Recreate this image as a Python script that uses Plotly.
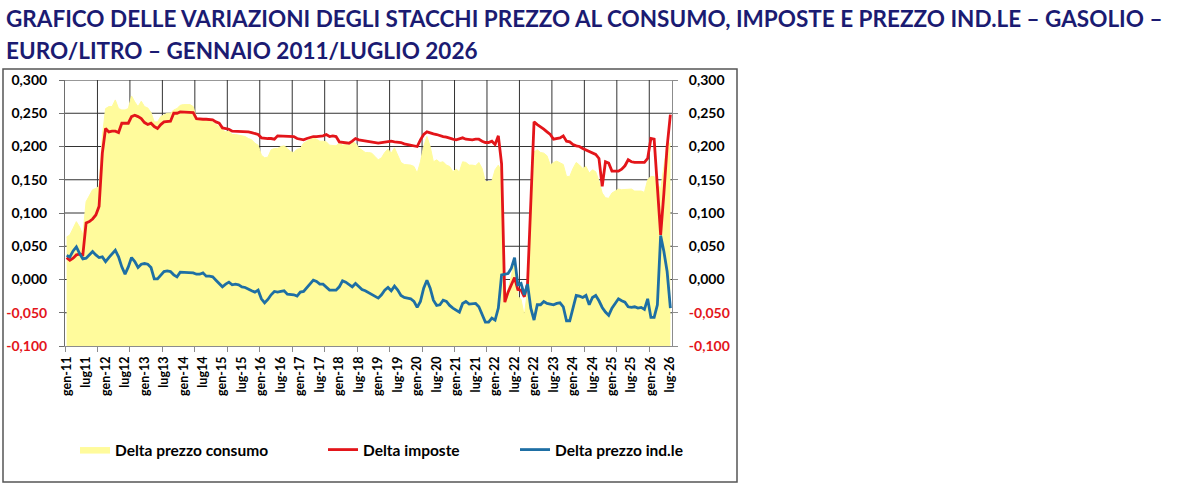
import plotly.graph_objects as go

# ---------------- DATA ----------------
n_months = 187  # gen-2011 ... lug-2026

delta_consumo = [
    0.064, 0.067, 0.077, 0.087, 0.079, 0.067, 0.117, 0.125, 0.135, 0.137,
    0.140, 0.215, 0.257, 0.260, 0.260, 0.270, 0.257, 0.255, 0.255, 0.257,
    0.276, 0.267, 0.260, 0.268, 0.260, 0.258, 0.251, 0.237, 0.237, 0.245,
    0.248, 0.250, 0.250, 0.255, 0.257, 0.262, 0.263, 0.263, 0.263, 0.260,
    0.242, 0.241, 0.242, 0.242, 0.240, 0.237, 0.233, 0.230, 0.225, 0.222,
    0.223, 0.218, 0.218, 0.217, 0.216, 0.215, 0.212, 0.210, 0.205, 0.202,
    0.187, 0.183, 0.184, 0.195, 0.197, 0.197, 0.200, 0.201, 0.197, 0.192,
    0.191, 0.196, 0.197, 0.205, 0.208, 0.210, 0.213, 0.211, 0.208, 0.208,
    0.207, 0.202, 0.201, 0.201, 0.205, 0.202, 0.203, 0.201, 0.207, 0.205,
    0.198, 0.195, 0.191, 0.191, 0.190, 0.185, 0.180, 0.183, 0.191, 0.196,
    0.190, 0.198, 0.188, 0.176, 0.173, 0.173, 0.172, 0.170, 0.160, 0.177,
    0.200, 0.215, 0.200, 0.177, 0.180, 0.176, 0.177, 0.172, 0.170, 0.162,
    0.166, 0.162, 0.177, 0.176, 0.172, 0.172, 0.171, 0.176, 0.167, 0.147,
    0.148, 0.148, 0.165, 0.172, 0.162, -0.030, -0.015, 0.005, 0.030, -0.025,
    -0.030, -0.055, -0.015, 0.080, 0.192, 0.195, 0.191, 0.190, 0.186, 0.172,
    0.176, 0.178, 0.176, 0.173, 0.155, 0.155, 0.167, 0.176, 0.172, 0.167,
    0.170, 0.160, 0.165, 0.162, 0.148, 0.130, 0.123, 0.122, 0.130, 0.133,
    0.136, 0.135, 0.135, 0.135, 0.136, 0.133, 0.133, 0.133, 0.131, 0.150,
    0.155, 0.155, 0.145, 0.135, 0.170, 0.205, 0.205,
]

delta_imposte = [
    0.033, 0.029, 0.032, 0.037, 0.038, 0.037, 0.085, 0.087, 0.091, 0.097,
    0.110, 0.190, 0.227, 0.222, 0.223, 0.223, 0.221, 0.235, 0.235, 0.235,
    0.245, 0.247, 0.245, 0.242, 0.236, 0.233, 0.235, 0.230, 0.227, 0.233,
    0.237, 0.238, 0.238, 0.250, 0.250, 0.252, 0.252, 0.252, 0.252, 0.251,
    0.242, 0.241, 0.241, 0.241, 0.241, 0.240, 0.237, 0.235, 0.228, 0.227,
    0.226, 0.223, 0.223, 0.222, 0.222, 0.222, 0.222, 0.221, 0.220, 0.218,
    0.213, 0.212, 0.212, 0.212, 0.211, 0.216, 0.216, 0.216, 0.216, 0.216,
    0.215, 0.212, 0.211, 0.210, 0.212, 0.214, 0.215, 0.215, 0.215, 0.216,
    0.218, 0.215, 0.216, 0.215, 0.207, 0.206, 0.206, 0.205, 0.208, 0.212,
    0.210, 0.209, 0.208, 0.208, 0.207, 0.206, 0.205, 0.206, 0.207, 0.207,
    0.208, 0.207, 0.207, 0.206, 0.204, 0.203, 0.203, 0.202, 0.200, 0.210,
    0.218, 0.222, 0.220, 0.219, 0.218, 0.216, 0.215, 0.214, 0.212, 0.211,
    0.210, 0.211, 0.213, 0.211, 0.210, 0.210, 0.211, 0.211, 0.208, 0.206,
    0.206, 0.208, 0.203, 0.216, 0.174, -0.034, -0.019, -0.008, 0.003, -0.015,
    -0.016, -0.026, -0.006, 0.115, 0.237, 0.233, 0.230, 0.226, 0.222, 0.218,
    0.211, 0.212, 0.213, 0.216, 0.208, 0.207, 0.203, 0.201, 0.200, 0.197,
    0.195, 0.193, 0.191, 0.188, 0.182, 0.140, 0.177, 0.175, 0.163, 0.163,
    0.163, 0.166, 0.171, 0.180, 0.177, 0.176, 0.176, 0.175, 0.176, 0.182,
    0.212, 0.211, 0.140, 0.067, 0.130, 0.200, 0.248,
]

delta_industriale = [
    0.036, 0.034, 0.043, 0.049, 0.039, 0.031, 0.032, 0.037, 0.042, 0.037,
    0.033, 0.034, 0.027, 0.033, 0.039, 0.044, 0.034, 0.019, 0.008, 0.019,
    0.033, 0.027, 0.018, 0.023, 0.024, 0.023, 0.018, 0.001, 0.001, 0.007,
    0.012, 0.013, 0.012, 0.007, 0.004, 0.011, 0.011, 0.011, 0.011, 0.010,
    0.008, 0.008, 0.010, 0.005, 0.005, 0.004, -0.001, -0.006, -0.011, -0.007,
    -0.004, -0.008, -0.007, -0.008, -0.011, -0.012, -0.015, -0.017, -0.019, -0.016,
    -0.029, -0.035, -0.030, -0.023, -0.018, -0.019, -0.018, -0.017, -0.022, -0.022,
    -0.023, -0.025, -0.019, -0.018, -0.012, -0.006, -0.001, -0.003, -0.007, -0.007,
    -0.012, -0.016, -0.016, -0.016, -0.011, -0.002, -0.004, -0.007, -0.011, -0.006,
    -0.011, -0.015, -0.017, -0.020, -0.022, -0.026, -0.028, -0.023, -0.016, -0.012,
    -0.017, -0.010, -0.016, -0.024, -0.027, -0.028, -0.029, -0.033, -0.042, -0.033,
    -0.013, -0.001, -0.013, -0.031, -0.039, -0.038, -0.031, -0.033, -0.039, -0.043,
    -0.046, -0.049, -0.036, -0.033, -0.037, -0.036, -0.036, -0.041, -0.052, -0.064,
    -0.064, -0.058, -0.061, -0.043, 0.007, 0.008, 0.009, 0.017, 0.033, -0.008,
    -0.006, -0.023, -0.007, -0.043, -0.061, -0.038, -0.038, -0.033, -0.036, -0.037,
    -0.038, -0.036, -0.035, -0.041, -0.062, -0.062, -0.043, -0.024, -0.025, -0.027,
    -0.024, -0.038, -0.027, -0.024, -0.032, -0.042, -0.049, -0.054, -0.043, -0.035,
    -0.029, -0.032, -0.034, -0.041, -0.042, -0.041, -0.043, -0.042, -0.045, -0.029,
    -0.057, -0.057, -0.038, 0.066, 0.042, 0.012, -0.043,
]

x_tick_labels = [
    "gen-11", "lug11", "gen-12", "lug12", "gen-13", "lug13", "gen-14", "lug14",
    "gen-15", "lug-15", "gen-16", "lug-16", "gen-17", "lug-17", "gen-18", "lug-18",
    "gen-19", "lug-19", "gen-20", "lug-20", "gen-21", "lug-21", "gen-22", "lug-22",
    "gen-22", "lug-23", "gen-24", "lug-24", "gen-25", "lug-25", "gen-26", "lug-26",
]
y_tick_values = [-0.100, -0.050, 0.000, 0.050, 0.100, 0.150, 0.200, 0.250, 0.300]
y_tick_labels = ["-0,100", "-0,050", "0,000", "0,050", "0,100", "0,150", "0,200", "0,250", "0,300"]

series_names = ["Delta prezzo consumo", "Delta imposte", "Delta prezzo ind.le"]
title_lines = [
    "GRAFICO DELLE VARIAZIONI DEGLI STACCHI PREZZO AL CONSUMO, IMPOSTE E PREZZO IND.LE \u2013 GASOLIO \u2013",
    "EURO/LITRO \u2013 GENNAIO 2011/LUGLIO 2026",
]

# ---------------- STYLE ----------------
W, H = 1183, 490
PL, PR, PT, PB = 65, 672, 80, 346        # plot area in pixels
YELLOW = "#FFFB9C"
RED = "#E3151A"
BLUE = "#1E6FA4"
NAVY = "#1B1B72"
GRID = "#333333"
AXIS = "#8C8C8C"
FONT = "Lato"

def px_x(p):
    return (p - PL) / (PR - PL)

def px_y(p):
    return (PB - p) / (PB - PT)

x_idx = list(range(n_months))
label_step = 6
grid_step = 10
label_pos = list(range(0, n_months, label_step))
grid_pos = [k - 0.5 for k in range(0, n_months, grid_step)]
x_range = [-0.5, n_months - 0.5]
y_min, y_max = y_tick_values[0], y_tick_values[-1]

def colored(lbl):
    if lbl.startswith("-"):
        return f"<span style='color:{RED}'><b>{lbl}</b></span>"
    return f"<b>{lbl}</b>"

y_text = [colored(t) for t in y_tick_labels]

fig = go.Figure()

# baseline at the axis minimum so the area fills down to the category axis
fig.add_trace(go.Scatter(
    x=x_idx, y=[y_min] * n_months, mode="lines",
    line=dict(width=0, color=YELLOW), showlegend=False, hoverinfo="skip",
))
fig.add_trace(go.Scatter(
    x=x_idx, y=delta_consumo, mode="lines", name=series_names[0],
    fill="tonexty", fillcolor=YELLOW, line=dict(width=1, color=YELLOW),
    legend="legend",
))
fig.add_trace(go.Scatter(
    x=x_idx, y=delta_imposte, mode="lines", name=series_names[1],
    line=dict(width=2.8, color=RED), legend="legend2",
))
fig.add_trace(go.Scatter(
    x=x_idx, y=delta_industriale, mode="lines", name=series_names[2],
    line=dict(width=2.8, color=BLUE), legend="legend3",
    xaxis="x2", yaxis="y2",
))

legend_font = dict(family=FONT, size=15.5, color="black", weight="bold")

fig.update_layout(
    width=W, height=H,
    margin=dict(l=PL, r=W - PR, t=PT, b=H - PB, pad=0),
    paper_bgcolor="white", plot_bgcolor="white",
    font=dict(family=FONT, size=14, color="black"),
    xaxis=dict(
        range=x_range, tickmode="array", tickvals=grid_pos,
        showticklabels=False, ticks="outside", ticklen=5, tickcolor=AXIS,
        showgrid=False, zeroline=False,
        showline=True, linecolor=AXIS, linewidth=1, automargin=False,
    ),
    xaxis2=dict(
        range=x_range, overlaying="x", anchor="y2", side="bottom",
        tickmode="array", tickvals=label_pos,
        ticktext=[f"<b>{t}</b>" for t in x_tick_labels],
        tickangle=-90, tickfont=dict(family=FONT, size=12.5, color="black"),
        ticks="", showgrid=False, zeroline=False, showline=False,
        ticklabelstandoff=7, automargin=False,
    ),
    yaxis=dict(
        range=[y_min, y_max], tickmode="array", tickvals=y_tick_values,
        ticktext=y_text, tickfont=dict(family=FONT, size=14, color="black"),
        showgrid=False, zeroline=False,
        showline=True, linecolor="#6E6E6E", linewidth=1,
        ticks="outside", ticklen=5, tickcolor="#6E6E6E",
        ticklabelstandoff=9, automargin=False,
    ),
    yaxis2=dict(
        range=[y_min, y_max], tickmode="array", tickvals=y_tick_values,
        ticktext=y_text, tickfont=dict(family=FONT, size=14, color="black"),
        overlaying="y", side="right", anchor="x2",
        showgrid=False, zeroline=False,
        showline=True, linecolor=AXIS, linewidth=1,
        ticks="outside", ticklen=5, tickcolor=AXIS,
        ticklabelstandoff=8, automargin=False,
    ),
    legend=dict(orientation="h", x=px_x(75), y=px_y(450), xanchor="left",
                yanchor="middle", bgcolor="rgba(0,0,0,0)", font=legend_font),
    legend2=dict(orientation="h", x=px_x(323), y=px_y(450), xanchor="left",
                 yanchor="middle", bgcolor="rgba(0,0,0,0)", font=legend_font),
    legend3=dict(orientation="h", x=px_x(515), y=px_y(450), xanchor="left",
                 yanchor="middle", bgcolor="rgba(0,0,0,0)", font=legend_font),
    showlegend=True,
)

# grid lines (drawn above the background, beneath the data)
for gy in y_tick_values[1:]:
    fig.add_shape(type="line", xref="paper", yref="y", x0=0, x1=1, y0=gy, y1=gy,
                  line=dict(color=GRID, width=1), layer="between")
for gx in grid_pos[1:]:
    fig.add_shape(type="line", xref="x", yref="paper", x0=gx, x1=gx, y0=0, y1=1,
                  line=dict(color=GRID, width=1), layer="between")

# chart frame
fig.add_shape(type="rect", xref="paper", yref="paper",
              x0=px_x(3), x1=px_x(737), y0=px_y(482), y1=px_y(69),
              line=dict(color="#555555", width=1.5), fillcolor="rgba(0,0,0,0)",
              layer="above")

# title (two lines)
for line_txt, cy in zip(title_lines, [19, 51]):
    fig.add_annotation(
        text=f"<b>{line_txt}</b>", xref="paper", yref="paper",
        x=px_x(4), y=px_y(cy), xanchor="left", yanchor="middle",
        showarrow=False, font=dict(family=FONT, size=22.5, color=NAVY),
    )

# the page itself adds no margin around the figure; no toolbar overlay
fig.write_html("out.html", config={"displayModeBar": False},
               post_script="document.body.style.margin='0px';")
